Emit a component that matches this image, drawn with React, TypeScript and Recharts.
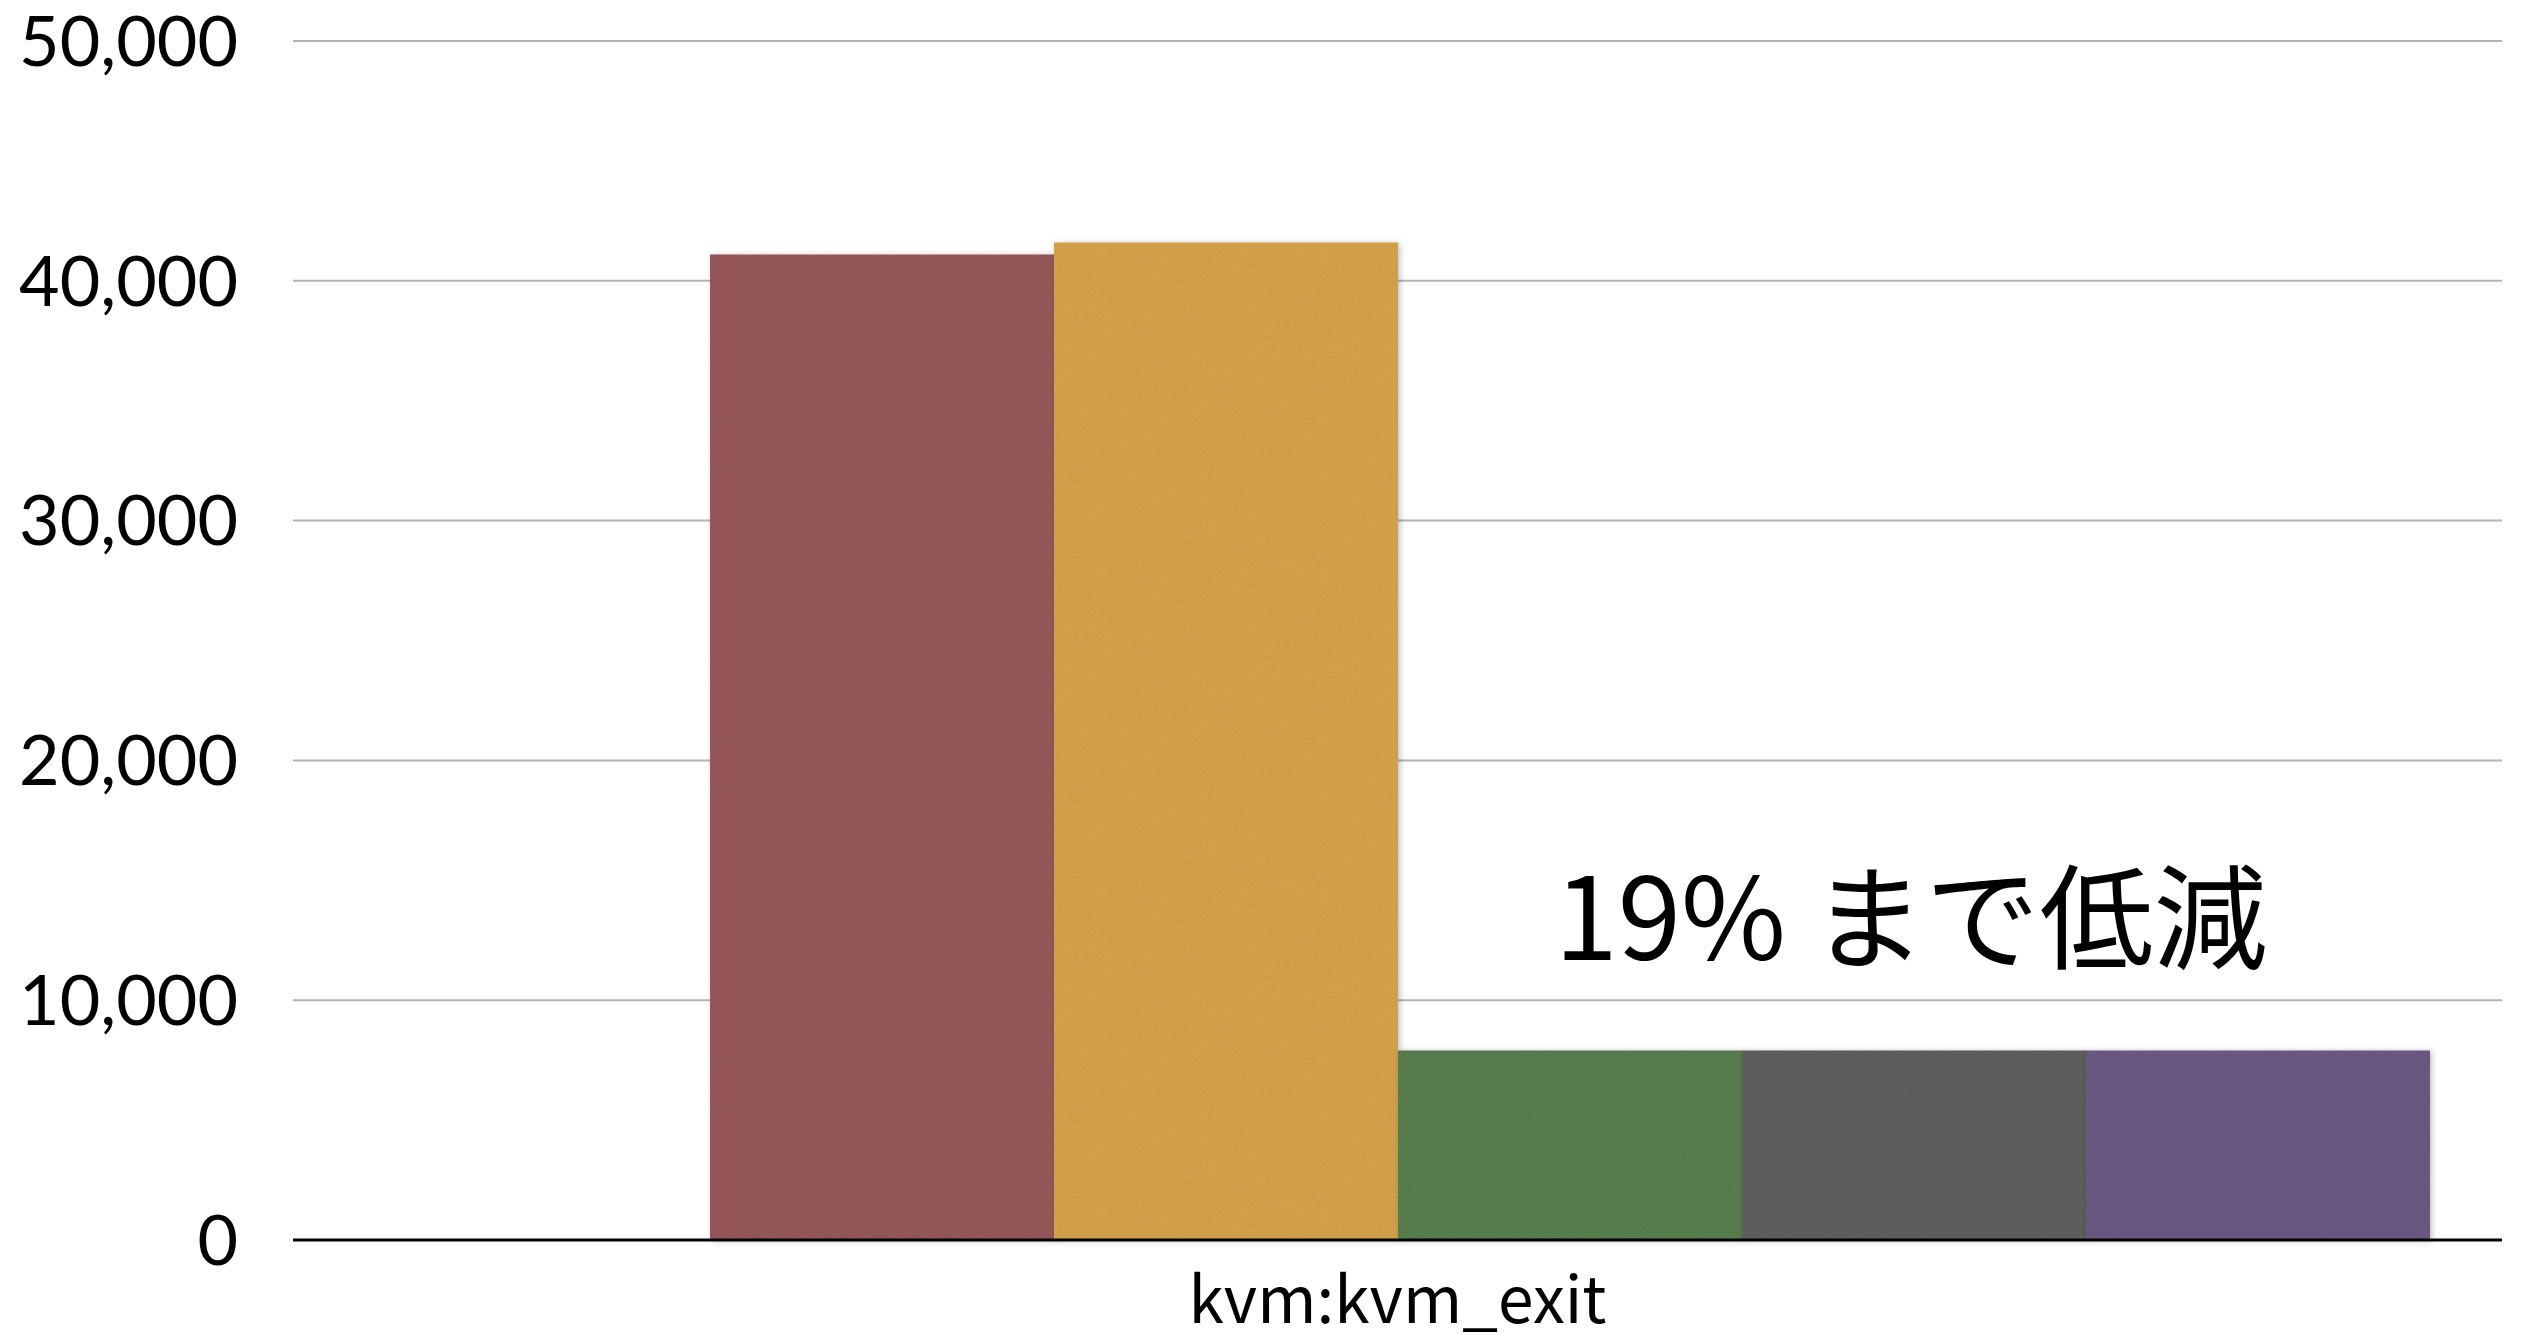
import { BarChart, Bar, XAxis, YAxis, CartesianGrid } from "recharts";

const categories = ["kvm:kvm_exit"];
// first series is empty in the original deck, it only holds a slot
const seriesKeys = ["empty", "s1", "s2", "s3", "s4", "s5"];
const seriesValues: (number | null)[] = [null, 41100, 41600, 7900, 7900, 7900];
const seriesColors = ["#000000", "#95585a", "#d3a24c", "#587e4f", "#5e5e5e", "#6b5a83"];
const yTicks = [0, 10000, 20000, 30000, 40000, 50000];
const note = "19% まで低減";

const data = categories.map((name) => {
  const row: Record<string, string | number | null> = { name };
  seriesKeys.forEach((k, i) => {
    row[k] = seriesValues[i];
  });
  return row;
});

const W = 2523;
const H = 1334;

export default function App() {
  return (
    <div style={{ position: "absolute", left: 0, top: 0, width: W, height: H, background: "#fff" }}>
      <BarChart
        width={W}
        height={H}
        data={data}
        margin={{ top: 41, right: 21, bottom: 0, left: 0 }}
        barSize={344}
        barGap={0}
      >
        <defs>
          <filter id="paper" x="-5%" y="-5%" width="112%" height="112%">
            <feTurbulence type="fractalNoise" baseFrequency="0.8" numOctaves="2" seed="4" result="noise" />
            <feColorMatrix
              in="noise"
              type="matrix"
              values="0 0 0 0 0  0 0 0 0 0  0 0 0 0 0  0.18 0 0 0 -0.06"
              result="speck"
            />
            <feComposite in="speck" in2="SourceGraphic" operator="in" result="tex" />
            <feMerge result="textured">
              <feMergeNode in="SourceGraphic" />
              <feMergeNode in="tex" />
            </feMerge>
            <feDropShadow in="textured" dx="2" dy="1" stdDeviation="3" floodColor="#000" floodOpacity="0.25" />
          </filter>
        </defs>
        <CartesianGrid vertical={false} stroke="#b4b4b4" strokeWidth={2} />
        <XAxis
          dataKey="name"
          height={94}
          tickLine={false}
          tickSize={0}
          tickMargin={38}
          axisLine={{ stroke: "#000", strokeWidth: 3 }}
          tick={{ fontSize: 64, fill: "#000", fontFamily: "'Noto Sans CJK JP', sans-serif" }}
        />
        <YAxis
          width={293}
          domain={[0, 50000]}
          ticks={yTicks}
          axisLine={false}
          tickLine={false}
          tickSize={0}
          tickMargin={55}
          tickFormatter={(v) => Number(v).toLocaleString("en-US")}
          tick={{ fontSize: 70, fill: "#000", fontFamily: "Lato, sans-serif" }}
        />
        {seriesKeys.map((k, i) => (
          <Bar key={k} dataKey={k} fill={seriesColors[i]} filter="url(#paper)" isAnimationActive={false} />
        ))}
      </BarChart>
      <svg width={W} height={H} style={{ position: "absolute", left: 0, top: 0, pointerEvents: "none" }}>
        <text
          x={1911}
          y={960}
          textAnchor="middle"
          fontSize={114}
          fontFamily="'Noto Sans CJK JP', sans-serif"
          fill="#000"
        >
          {note}
        </text>
      </svg>
    </div>
  );
}
